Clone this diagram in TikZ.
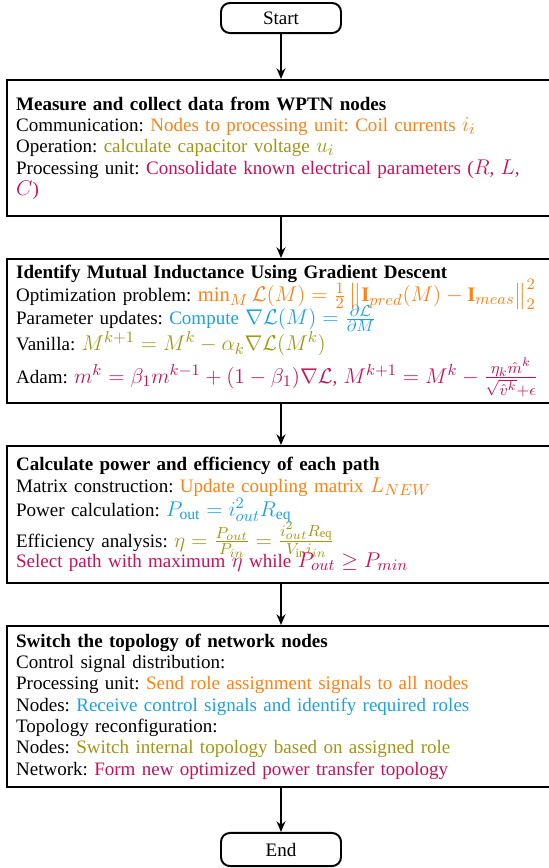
\documentclass[tikz,border=0pt]{standalone}
\usepackage{amsmath}
\usepackage{fontspec}
\setmainfont{Liberation Serif}
\usetikzlibrary{arrows.meta}
\DeclareMathSizes{10.7}{11.6}{8.8}{7}
\definecolor{corange}{RGB}{255,128,20}
\definecolor{cblue}{RGB}{27,161,226}
\definecolor{colive}{RGB}{160,150,20}
\definecolor{cred}{RGB}{200,16,90}
\tikzset{
  termbox/.style={draw, line width=1.1pt, rounded corners=5pt, minimum width=67.5pt, inner sep=2pt, font=\fontsize{10.7}{12}\selectfont},
  stagebox/.style={draw, line width=1.1pt, minimum width=308.25pt, text width=298pt, align=left, inner xsep=4pt, inner ysep=3pt, font=\fontsize{10.7}{12}\selectfont\frenchspacing},
  flow/.style={line width=1pt, -{Stealth[length=6pt,width=5pt]}}
}
\begin{document}
\begin{tikzpicture}[x=0.5625pt, y=-0.5625pt]
\useasboundingbox (0,0) rectangle (549,868);
\node[termbox, minimum height=16.9pt] (start) at (281,18) {Start};
\node[stagebox, minimum height=76.5pt] (b1) at (281,148) {\textbf{Measure and collect data from WPTN nodes}\\
Communication: \textcolor{corange}{Nodes to processing unit: Coil currents $i_i$}\\
Operation: \textcolor{colive}{calculate capacitor voltage $u_i$}\\
Processing unit: \textcolor{cred}{Consolidate known electrical parameters ($R$, $L$,}\\
\textcolor{cred}{$C$)}};
\node[stagebox, minimum height=81pt] (b2) at (281,331) {\textbf{Identify Mutual Inductance Using Gradient Descent}\\[-3.4pt]
Optimization problem: \textcolor{corange}{$\min_M \mathcal{L}(M) = \frac{1}{2}\left\|\mathbf{I}_{pred}(M)-\mathbf{I}_{meas}\right\|_2^2$}\\[-3.8pt]
Parameter updates: \textcolor{cblue}{Compute $\nabla\mathcal{L}(M) = \frac{\partial\mathcal{L}}{\partial M}$}\\[-1pt]
Vanilla: \textcolor{colive}{$M^{k+1} = M^k - \alpha_k\nabla\mathcal{L}(M^k)$}\\
Adam: \textcolor{cred}{$m^k = \beta_1 m^{k-1} + (1-\beta_1)\nabla\mathcal{L}$, $M^{k+1} = M^k - \frac{\eta_k\hat{m}^k}{\sqrt{\hat{v}^k}+\epsilon}$}};
\node[stagebox, minimum height=77.1pt] (b3) at (281,514.5) {\textbf{Calculate power and efficiency of each path}\\
Matrix construction: \textcolor{corange}{Update coupling matrix $L_{NEW}$}\\
Power calculation: \textcolor{cblue}{$P_{\mathrm{out}} = i_{out}^2R_{\mathrm{eq}}$}\\[-1.7pt]
Efficiency analysis: \textcolor{colive}{$\eta = \frac{P_{out}}{P_{in}} = \frac{i_{out}^2R_{\mathrm{eq}}}{V_{\mathrm{in}}i_{in}}$}\\[-3.5pt]
\textcolor{cred}{Select path with maximum $\eta$ while $P_{out}\geq P_{min}$}};
\node[stagebox, minimum height=90.6pt] (b4) at (281,706.5) {\textbf{Switch the topology of network nodes}\\
Control signal distribution:\\
Processing unit: \textcolor{corange}{Send role assignment signals to all nodes}\\
Nodes: \textcolor{cblue}{Receive control signals and identify required roles}\\
Topology reconfiguration:\\
Nodes: \textcolor{colive}{Switch internal topology based on assigned role}\\
Network: \textcolor{cred}{Form new optimized power transfer topology}};
\node[termbox, minimum height=18.6pt] (end) at (281,849.5) {End};
\draw[flow] (start) -- (b1);
\draw[flow] (b1) -- (b2);
\draw[flow] (b2) -- (b3);
\draw[flow] (b3) -- (b4);
\draw[flow] (b4) -- (end);
\end{tikzpicture}
\end{document}
